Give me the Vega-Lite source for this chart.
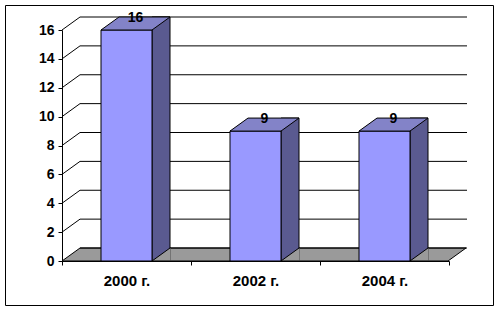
{
  "$schema": "https://vega.github.io/schema/vega-lite/v6.json",
  "width": 488,
  "height": 300,
  "autosize": {"type": "none"},
  "padding": {"left": 5, "top": 5, "right": 6, "bottom": 6},
  "background": "white",
  "config": {
    "view": {"stroke": "black", "strokeWidth": 1},
    "font": "Liberation Sans",
    "axisY": {
      "offset": -57, "grid": false, "tickSize": 4, "labelPadding": 4,
      "labelFontSize": 14, "labelFontWeight": "bold", "labelColor": "black",
      "labelFont": "Liberation Sans", "domainColor": "black", "tickColor": "black",
      "domainWidth": 1, "tickWidth": 1, "labelOverlap": false
    },
    "axisX": {
      "offset": -44, "grid": false, "tickSize": 4, "labelPadding": 8,
      "labelFontSize": 15, "labelFontWeight": "bold", "labelColor": "black",
      "labelFont": "Liberation Sans", "domainColor": "black", "tickColor": "black",
      "tickBand": "extent", "labelAngle": 0, "domainWidth": 1, "tickWidth": 1,
      "labelOverlap": false
    }
  },
  "datasets": {
    "bars": [
      {"year": "2000 г.", "value": 16},
      {"year": "2002 г.", "value": 9},
      {"year": "2004 г.", "value": 9}
    ],
    "grid": [
      {"v": 0}, {"v": 2}, {"v": 4}, {"v": 6}, {"v": 8},
      {"v": 10}, {"v": 12}, {"v": 14}, {"v": 16}
    ]
  },
  "resolve": {"scale": {"x": "independent"}},
  "layer": [
    {
      "data": {"name": "grid"},
      "layer": [
        {
          "transform": [{"filter": "datum.v == 0"}],
          "mark": {"type": "point", "shape": "M0,0 L18,-13 L404,-13 L386,0 Z", "size": 4, "filled": true, "fill": "#9a9a9a", "stroke": "black", "strokeWidth": 1, "opacity": 1},
          "encoding": {
            "x": {"datum": 0, "type": "quantitative", "scale": {"domain": [0, 3], "range": [57, 444], "nice": false, "zero": false}, "axis": null},
            "y": {"field": "v", "type": "quantitative", "title": null, "axis": {"values": [0, 2, 4, 6, 8, 10, 12, 14, 16], "labelOverlap": false, "labelBound": false}}
          }
        },
        {
          "mark": {"type": "rule", "color": "black", "strokeWidth": 1, "xOffset": 18, "x2Offset": 18, "yOffset": -13},
          "encoding": {
            "x": {"datum": 0, "type": "quantitative", "scale": {"domain": [0, 3], "range": [57, 444], "nice": false, "zero": false}, "axis": null},
            "x2": {"datum": 3},
            "y": {"field": "v", "type": "quantitative", "title": null, "axis": {"values": [0, 2, 4, 6, 8, 10, 12, 14, 16], "labelOverlap": false, "labelBound": false}}
          }
        },
        {
          "transform": [{"filter": "datum.v > 0"}],
          "mark": {"type": "rule", "color": "black", "strokeWidth": 1, "x2Offset": 18, "y2Offset": -13},
          "encoding": {
            "x": {"datum": 0, "type": "quantitative", "scale": {"domain": [0, 3], "range": [57, 444], "nice": false, "zero": false}, "axis": null},
            "x2": {"datum": 0},
            "y": {"field": "v", "type": "quantitative", "title": null, "axis": {"values": [0, 2, 4, 6, 8, 10, 12, 14, 16], "labelOverlap": false, "labelBound": false}},
            "y2": {"field": "v"}
          }
        }
      ]
    },
    {
      "data": {"name": "bars"},
      "encoding": {
        "x": {"field": "year", "type": "nominal", "title": null, "scale": {"range": [57, 444], "paddingInner": 0, "paddingOuter": 0}},
        "y": {"field": "value", "type": "quantitative", "title": null, "scale": {"domain": [0, 16], "range": [256, 25], "nice": false}, "axis": {"values": [0, 2, 4, 6, 8, 10, 12, 14, 16], "labelOverlap": false, "labelBound": false}}
      },
      "layer": [
        {
          "mark": {"type": "bar", "width": 18, "xOffset": 34.5, "yOffset": -13, "fill": "#5a5a90", "stroke": "black", "strokeWidth": 1},
          "encoding": {"y2": {"datum": 0}}
        },
        {
          "mark": {"type": "point", "shape": "M44,0 L25.5,0 L43.5,-13 L44,-13", "size": 4, "filled": true, "fill": "#9a9a9a", "stroke": "black", "strokeWidth": 1, "opacity": 1},
          "encoding": {"y": {"datum": 0}}
        },
        {
          "mark": {"type": "bar", "width": 51, "fill": "#9999ff", "stroke": "black", "strokeWidth": 1},
          "encoding": {"y2": {"datum": 0}}
        },
        {
          "mark": {"type": "point", "shape": "M-25.5,0 L25.5,0 L43.5,-13 L-7.5,-13 Z", "size": 4, "filled": true, "fill": "#8383c8", "stroke": "black", "strokeWidth": 1, "opacity": 1}
        },
        {
          "mark": {"type": "text", "dx": 9, "dy": -12, "baseline": "middle", "align": "center", "fontSize": 14, "fontWeight": "bold", "font": "Liberation Sans", "color": "black"},
          "encoding": {"text": {"field": "value", "type": "quantitative"}}
        }
      ]
    }
  ]
}
